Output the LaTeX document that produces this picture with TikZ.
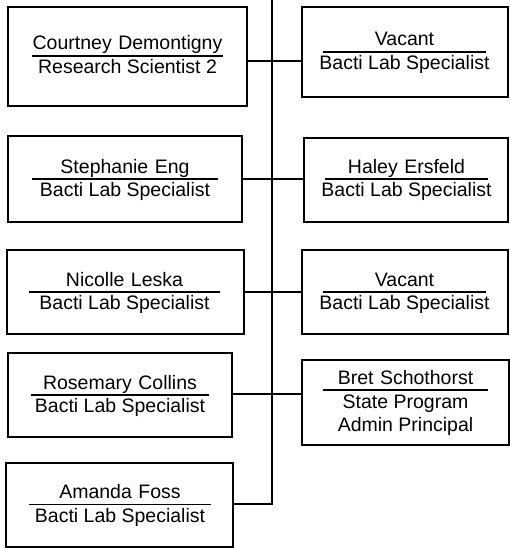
\documentclass[tikz,border=0pt]{standalone}
\usepackage{fontspec}
\setmainfont{Liberation Sans}
\newcommand\orgfsz{\fontsize{19.5}{23.5}\selectfont}
\tikzset{
  orgbox/.style={draw, line width=2pt, rectangle, inner sep=0pt},
  nm/.style={inner sep=0pt, text depth=6pt, anchor=base, align=center, font=\orgfsz},
  ttl/.style={inner sep=0pt, anchor=base, font=\orgfsz},
  ul/.style={line width=1.5pt},
  wire/.style={line width=2pt}
}
\begin{document}
\begin{tikzpicture}[x=1pt,y=-1pt]
\useasboundingbox (0,0) rectangle (510,548);
% boxes
\node[orgbox, minimum width=239pt, minimum height=99pt] (b1) at (127.5,56.5) {};
\node[orgbox, minimum width=206pt, minimum height=90pt] (b2) at (405,52) {};
\node[orgbox, minimum width=234pt, minimum height=86pt] (b3) at (125,179) {};
\node[orgbox, minimum width=204pt, minimum height=84pt] (b4) at (406,180) {};
\node[orgbox, minimum width=237pt, minimum height=84pt] (b5) at (125.5,292) {};
\node[orgbox, minimum width=206pt, minimum height=84pt] (b6) at (405,292) {};
\node[orgbox, minimum width=224pt, minimum height=84pt] (b7) at (120,395) {};
\node[orgbox, minimum width=207pt, minimum height=85pt] (b8) at (405.5,402.5) {};
\node[orgbox, minimum width=227pt, minimum height=84pt] (b9) at (119.5,505) {};
% texts
\node[nm, text width=191pt] (n1) at (127.5,50) {Courtney Demontigny};
\node[ttl] (t1) at (127.5,73.5) {Research Scientist 2};
\node[nm, text width=163pt] (n2) at (404.5,46) {Vacant};
\node[ttl] (t2) at (404.5,69.5) {Bacti Lab Specialist};
\node[nm, text width=186pt] (n3) at (125,173) {Stephanie Eng};
\node[ttl] (t3) at (125,196.5) {Bacti Lab Specialist};
\node[nm, text width=163pt] (n4) at (406.5,173) {Haley Ersfeld};
\node[ttl] (t4) at (406.5,196.5) {Bacti Lab Specialist};
\node[nm, text width=191pt] (n5) at (124.5,286) {Nicolle Leska};
\node[ttl] (t5) at (124.5,309.5) {Bacti Lab Specialist};
\node[nm, text width=163pt] (n6) at (404.5,286) {Vacant};
\node[ttl] (t6) at (404.5,309.5) {Bacti Lab Specialist};
\node[nm, text width=178pt] (n7) at (120,389) {Rosemary Collins};
\node[ttl] (t7) at (120,412.5) {Bacti Lab Specialist};
\node[nm, text width=165pt] (n8) at (405.5,384) {Bret Schothorst};
\node[ttl] (t8a) at (405.5,408) {State Program};
\node[ttl] (t8b) at (405.5,431.5) {Admin Principal};
\node[nm, text width=182pt] (n9) at (120,498.5) {Amanda Foss};
\node[ttl] (t9) at (120,522) {Bacti Lab Specialist};
% underlines
\foreach \n in {n1,n2,n3,n4,n5,n6,n7,n8,n9}
  \draw[ul] (\n.south west) -- (\n.south east);
% connectors
\coordinate (sp0) at (272,0);
\coordinate (j1) at (272,61);
\coordinate (j2) at (272,179);
\coordinate (j3) at (272,292);
\coordinate (j4) at (272,394);
\coordinate (j5) at (272,504);
\draw[wire] (b9.east |- j5) -- (j5) -- (sp0);
\draw[wire] (b1.east |- j1) -- (b2.west |- j1);
\draw[wire] (b3.east |- j2) -- (b4.west |- j2);
\draw[wire] (b5.east |- j3) -- (b6.west |- j3);
\draw[wire] (b7.east |- j4) -- (b8.west |- j4);
\end{tikzpicture}
\end{document}
